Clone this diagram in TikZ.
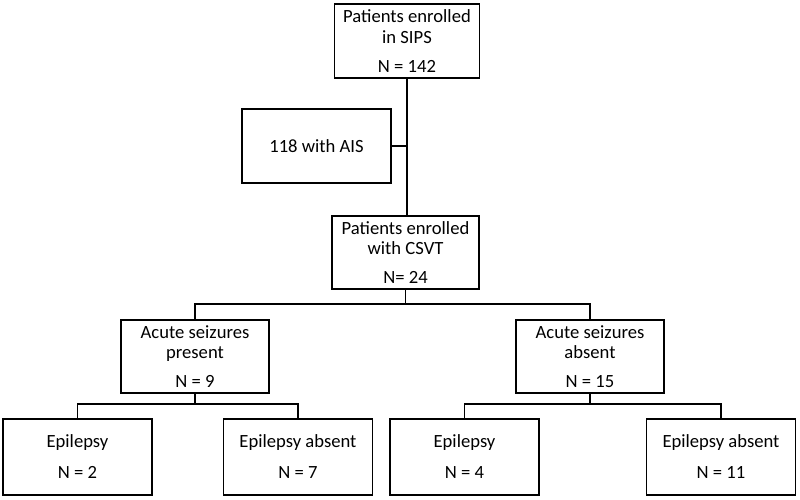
\documentclass[tikz,border=0pt]{standalone}
\usepackage{fontspec}
\setmainfont{Carlito}
\usepackage{tikz}
\usetikzlibrary{positioning}

\tikzset{
  box/.style={draw, align=center, inner sep=0pt, minimum width=2.96cm, minimum height=1.47cm, font=\fontsize{10.6}{11.6}\selectfont},
  lowbox/.style={box, minimum width=2.98cm, minimum height=1.52cm}
}

\begin{document}
\begin{tikzpicture}[line width=0.38mm]
  \useasboundingbox (0,0) rectangle (16,10);
  % Enrolment
  \node[box, minimum width=2.9cm] (sips) at (8.14,9.18) {Patients enrolled\\in SIPS\\[5pt]N = 142};
  \node[box, minimum width=2.98cm] (ais) at (6.33,7.08) {118 with AIS};
  \node[box, minimum width=2.94cm] (csvt) at (8.11,4.95) {Patients enrolled\\with CSVT\\[5pt]N= 24};
  \draw (sips.south) -- (sips.south |- csvt.north);
  \draw (ais.east) -- (ais.east -| sips.south);
  % Acute seizures
  \node[box] (pres) at (3.9,2.87) {Acute seizures\\present\\[5pt]N = 9};
  \node[box] (abse) at (11.8,2.87) {Acute seizures\\absent\\[5pt]N = 15};
  \draw (csvt.south) -- ++(0,-0.28) coordinate (busA);
  \draw (pres.north) |- (busA) -| (abse.north);
  % Epilepsy outcome
  \node[lowbox] (epiA) at (1.55,0.86) {Epilepsy\\[6pt]N = 2};
  \node[lowbox] (noepiA) at (5.96,0.86) {Epilepsy absent\\[6pt]N = 7};
  \node[lowbox] (epiB) at (9.29,0.86) {Epilepsy\\[6pt]N = 4};
  \node[lowbox] (noepiB) at (14.42,0.86) {Epilepsy absent\\[6pt]N = 11};
  \draw (pres.south) -- ++(0,-0.2) coordinate (busB);
  \draw (epiA.north) |- (busB) -| (noepiA.north);
  \draw (abse.south) -- ++(0,-0.2) coordinate (busC);
  \draw (epiB.north) |- (busC) -| (noepiB.north);
\end{tikzpicture}
\end{document}
